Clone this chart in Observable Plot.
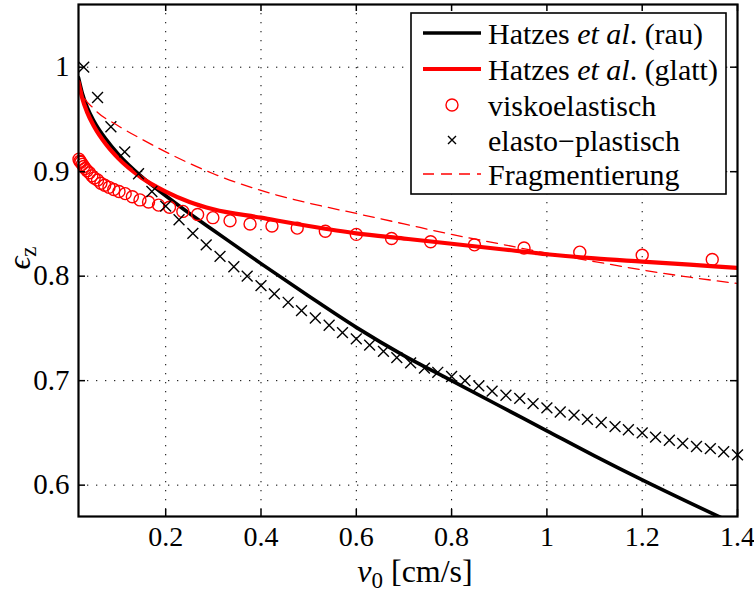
<!DOCTYPE html>
<html><head><meta charset="utf-8">
<script src="https://cdn.jsdelivr.net/npm/d3@7"></script>
<script src="https://cdn.jsdelivr.net/npm/@observablehq/plot@0.6"></script>
<style>
body{margin:0;background:#fff}
#wrap{position:relative;width:754px;height:592px;font-family:"Liberation Serif",serif;}
#wrap svg{position:absolute;left:0;top:0;overflow:visible}
</style></head><body><div id="wrap"></div>
<script>
const xTicks = [0.2, 0.4, 0.6, 0.8, 1, 1.2, 1.4];
const yTicks = [0.6, 0.7, 0.8, 0.9, 1];

const rauX = [0.017, 0.025, 0.035, 0.05, 0.075, 0.1, 0.15, 0.2, 0.25, 0.3, 0.4, 0.5, 0.6, 0.7, 0.8, 0.9, 1.0, 1.1, 1.2, 1.3, 1.37];
const rauY = [0.990, 0.975, 0.962, 0.948, 0.931, 0.917, 0.895, 0.877, 0.860, 0.844, 0.812, 0.781, 0.751, 0.724, 0.700, 0.676, 0.652, 0.628, 0.605, 0.583, 0.568];

const glattX = [0.017, 0.025, 0.035, 0.05, 0.075, 0.1, 0.15, 0.2, 0.25, 0.3, 0.4, 0.5, 0.6, 0.7, 0.8, 0.9, 1.0, 1.1, 1.2, 1.3, 1.4];
const glattY = [0.986, 0.970, 0.957, 0.943, 0.926, 0.913, 0.894, 0.881, 0.871, 0.864, 0.856, 0.848, 0.841, 0.836, 0.831, 0.826, 0.821, 0.817, 0.814, 0.811, 0.808];

const viskoX = [0.018, 0.020, 0.022, 0.025, 0.028, 0.031, 0.035, 0.040, 0.045, 0.050, 0.057, 0.064, 0.072, 0.081, 0.091, 0.102, 0.115, 0.130, 0.146, 0.164, 0.185, 0.208, 0.236, 0.267, 0.299, 0.335, 0.377, 0.423, 0.476, 0.535, 0.600, 0.674, 0.756, 0.848, 0.952, 1.069, 1.200, 1.347];
const viskoY = [0.912, 0.910, 0.909, 0.907, 0.905, 0.903, 0.901, 0.899, 0.896, 0.894, 0.892, 0.889, 0.887, 0.885, 0.883, 0.881, 0.879, 0.876, 0.873, 0.871, 0.868, 0.866, 0.862, 0.859, 0.856, 0.853, 0.850, 0.848, 0.846, 0.843, 0.840, 0.836, 0.833, 0.830, 0.827, 0.823, 0.820, 0.816];

const elastoX = [0.028, 0.057, 0.085, 0.114, 0.143, 0.171, 0.200, 0.228, 0.257, 0.285, 0.314, 0.343, 0.371, 0.400, 0.428, 0.457, 0.485, 0.514, 0.543, 0.571, 0.600, 0.628, 0.657, 0.685, 0.714, 0.743, 0.771, 0.800, 0.828, 0.857, 0.885, 0.914, 0.943, 0.971, 1.000, 1.028, 1.057, 1.085, 1.114, 1.143, 1.171, 1.200, 1.228, 1.257, 1.285, 1.314, 1.343, 1.371, 1.400];
const elastoY = [1.000, 0.971, 0.943, 0.919, 0.898, 0.881, 0.867, 0.854, 0.841, 0.830, 0.819, 0.809, 0.800, 0.791, 0.783, 0.775, 0.767, 0.760, 0.753, 0.746, 0.740, 0.734, 0.728, 0.722, 0.717, 0.712, 0.708, 0.704, 0.700, 0.695, 0.690, 0.686, 0.683, 0.678, 0.674, 0.670, 0.667, 0.663, 0.660, 0.656, 0.653, 0.650, 0.646, 0.643, 0.640, 0.637, 0.635, 0.632, 0.629];

const fragX = [0.017, 0.025, 0.05, 0.1, 0.15, 0.2, 0.3, 0.4, 0.5, 0.6, 0.7, 0.8, 0.9, 1.0, 1.1, 1.2, 1.3, 1.4];
const fragY = [0.986, 0.975, 0.960, 0.944, 0.931, 0.919, 0.898, 0.882, 0.870, 0.860, 0.850, 0.840, 0.831, 0.822, 0.814, 0.806, 0.799, 0.793];

const legendLabels = ["Hatzes|et al.|(rau)", "Hatzes|et al.|(glatt)", "viskoelastisch", "elasto\u2212plastisch", "Fragmentierung"];

const zip = (xs, ys) => xs.map((x, i) => ({x, y: ys[i]}));
const rau = zip(rauX, rauY), glatt = zip(glattX, glattY), visko = zip(viskoX, viskoY),
      elasto = zip(elastoX, elastoY), frag = zip(fragX, fragY);

const W = 754, H = 592, mL = 78, mR = 17, mT = 4, mB = 76;
const pw = W - mL - mR, ph = H - mT - mB, tk = 7;
const FONT = "Liberation Serif";
const fmt = d => String(d);
const dotted = "1.3,7.7";

const plot = Plot.plot({
  width: W, height: H, marginLeft: mL, marginRight: mR, marginTop: mT, marginBottom: mB,
  style: {fontFamily: FONT, fontSize: "28px", background: "#fff", color: "#000", overflow: "visible"},
  x: {domain: [0.017, 1.4]},
  y: {domain: [0.57, 1.06]},
  marks: [
    Plot.gridX(xTicks, {stroke: "#000", strokeOpacity: 1, strokeWidth: 1, strokeDasharray: dotted}),
    Plot.gridY(yTicks, {stroke: "#000", strokeOpacity: 1, strokeWidth: 1, strokeDasharray: dotted}),
    Plot.line(rau, {x: "x", y: "y", stroke: "#000", strokeWidth: 3.6, curve: "monotone-x", clip: true}),
    Plot.line(glatt, {x: "x", y: "y", stroke: "#ff0000", strokeWidth: 4.2, curve: "monotone-x", clip: true}),
    Plot.dot(visko, {x: "x", y: "y", r: 6, stroke: "#ff0000", strokeWidth: 1.4, fill: "none"}),
    Plot.dot(elasto, {x: "x", y: "y", symbol: "times", r: 5, stroke: "#000", strokeWidth: 1.4}),
    Plot.line(frag, {x: "x", y: "y", stroke: "#ff0000", strokeWidth: 1.3, strokeDasharray: "11,7", curve: "monotone-x", clip: true}),
    Plot.ruleX(xTicks, {stroke: "#000", strokeWidth: 1.5, insetTop: ph - tk}),
    Plot.ruleX(xTicks, {stroke: "#000", strokeWidth: 1.5, insetBottom: ph - tk}),
    Plot.ruleY(yTicks, {stroke: "#000", strokeWidth: 1.5, insetRight: pw - tk}),
    Plot.ruleY(yTicks, {stroke: "#000", strokeWidth: 1.5, insetLeft: pw - tk}),
    Plot.frame({stroke: "#000", strokeWidth: 2.2}),
    Plot.axisX(xTicks, {tickSize: 0, tickPadding: 10, tickFormat: fmt, fontSize: 28, label: null}),
    Plot.axisY(yTicks, {tickSize: 0, tickPadding: 9, tickFormat: fmt, fontSize: 29, label: null})
  ]
});

const wrap = document.getElementById("wrap");
wrap.appendChild(plot);

// axis labels
const s = d3.select(plot);
const xl = s.append("text").attr("x", 415).attr("y", 582).attr("text-anchor", "middle")
  .attr("font-family", FONT).attr("font-size", 32).attr("fill", "#000");
xl.append("tspan").attr("font-style", "italic").text("v");
xl.append("tspan").attr("font-size", 23).attr("dy", 6).text("0");
xl.append("tspan").attr("dy", -6).text("\u00a0[cm/s]");

const yl = s.append("text").attr("transform", "translate(30,258) rotate(-90)").attr("text-anchor", "middle")
  .attr("font-family", FONT).attr("font-size", 32).attr("fill", "#000");
yl.append("tspan").attr("font-style", "italic").text("\u03f5");
yl.append("tspan").attr("font-size", 23).attr("dy", 6).text("z");

// legend
const lg = d3.select(wrap).append("svg").attr("width", 318).attr("height", 183)
  .style("left", "410px").style("top", "12px");
lg.append("rect").attr("x", 1).attr("y", 1).attr("width", 315).attr("height", 181)
  .attr("fill", "#fff").attr("stroke", "#000").attr("stroke-width", 1.6);
const rows = [21, 57, 93, 128, 162];
const sx0 = 13, sx1 = 71, sm = 42, tx = 78;
lg.append("line").attr("x1", sx0).attr("x2", sx1).attr("y1", rows[0]).attr("y2", rows[0]).attr("stroke", "#000").attr("stroke-width", 3.6);
lg.append("line").attr("x1", sx0).attr("x2", sx1).attr("y1", rows[1]).attr("y2", rows[1]).attr("stroke", "#ff0000").attr("stroke-width", 4.2);
lg.append("circle").attr("cx", sm).attr("cy", rows[2]).attr("r", 6).attr("fill", "none").attr("stroke", "#ff0000").attr("stroke-width", 1.4);
lg.append("path").attr("d", `M${sm-4},${rows[3]-4}L${sm+4},${rows[3]+4}M${sm-4},${rows[3]+4}L${sm+4},${rows[3]-4}`).attr("stroke", "#000").attr("stroke-width", 1.4);
lg.append("line").attr("x1", sx0).attr("x2", sx1).attr("y1", rows[4]).attr("y2", rows[4]).attr("stroke", "#ff0000").attr("stroke-width", 1.3).attr("stroke-dasharray", "11,7");
legendLabels.forEach((lab, i) => {
  const t = lg.append("text").attr("x", tx).attr("y", rows[i]).attr("dy", "0.35em")
    .attr("font-family", FONT).attr("font-size", 30).attr("fill", "#000");
  const parts = lab.split("|");
  if (parts.length === 3) {
    t.append("tspan").text(parts[0] + " ");
    t.append("tspan").attr("font-style", "italic").text(parts[1].replace(".", ""));
    t.append("tspan").text(". " + parts[2]);
  } else t.text(lab);
});
</script>
</body></html>
